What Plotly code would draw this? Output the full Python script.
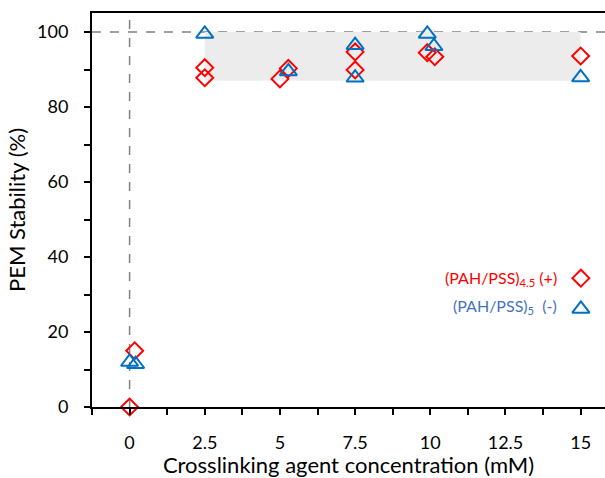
import plotly.graph_objects as go

# Stability of PEM films versus crosslinking agent concentration
pos_x = [0, 0.17, 2.5, 2.5, 5.0, 5.28, 7.5, 7.5, 9.9, 10.15, 15.0]
pos_y = [0, 15.0, 90.5, 87.8, 87.5, 90.3, 94.7, 89.9, 94.5, 93.4, 93.6]

neg_x = [0, 0.2, 2.5, 5.28, 7.5, 7.5, 9.9, 10.12, 15.0]
neg_y = [12.0, 11.4, 99.5, 89.5, 96.5, 87.8, 99.5, 96.2, 87.9]

band_x = [2.5, 15.0]
band_y = [87.0, 100.0]

x_ticks = [0, 2.5, 5, 7.5, 10, 12.5, 15]
x_labels = ["0", "2.5", "5", "7.5", "10", "12.5", "15"]
y_ticks = [0, 20, 40, 60, 80, 100]

RED = "#FF0000"
BLUE = "#0070C0"
BLUE_TXT = "#4472C4"
FONT = "Lato"

fig = go.Figure()

fig.add_trace(go.Scatter(
    x=pos_x, y=pos_y, mode="markers", name="(+)",
    marker=dict(symbol="diamond-open", size=13, color=RED, line=dict(width=2, color=RED)),
    cliponaxis=False, showlegend=False,
))
fig.add_trace(go.Scatter(
    x=neg_x, y=neg_y, mode="markers", name="(-)",
    marker=dict(symbol="triangle-up-open", size=15, color=BLUE, line=dict(width=2, color=BLUE)),
    cliponaxis=False, showlegend=False,
))

# key symbols on a helper overlay axis (unit square)
fig.add_trace(go.Scatter(
    x=[0.953], y=[0.327], mode="markers", xaxis="x2", yaxis="y2",
    marker=dict(symbol="diamond-open", size=13, color=RED, line=dict(width=2, color=RED)),
    showlegend=False, hoverinfo="skip", cliponaxis=False,
))
fig.add_trace(go.Scatter(
    x=[0.953], y=[0.249], mode="markers", xaxis="x2", yaxis="y2",
    marker=dict(symbol="triangle-up-open", size=15, color=BLUE, line=dict(width=2, color=BLUE)),
    showlegend=False, hoverinfo="skip", cliponaxis=False,
))

fig.add_shape(type="rect", xref="x", yref="y",
              x0=band_x[0], x1=band_x[1], y0=band_y[0], y1=band_y[1],
              fillcolor="#ECECEC", line=dict(width=0), layer="below")
fig.add_shape(type="line", xref="paper", yref="y", x0=0, x1=1, y0=100, y1=100,
              line=dict(color="#808080", width=1.5, dash="dash"), layer="below")
fig.add_shape(type="line", xref="x", yref="paper", x0=0, x1=0, y0=0, y1=1,
              line=dict(color="#808080", width=1.5, dash="dash"), layer="below")

fig.add_annotation(xref="paper", yref="paper", x=0.910, y=0.327, xanchor="right", yanchor="middle",
                   text="(PAH/PSS)<sub>4.5</sub> (+)", showarrow=False,
                   font=dict(family=FONT, size=16, color=RED))
fig.add_annotation(xref="paper", yref="paper", x=0.910, y=0.256, xanchor="right", yanchor="middle",
                   text="(PAH/PSS)<sub>5</sub>  (-)", showarrow=False,
                   font=dict(family=FONT, size=16, color=BLUE_TXT))

fig.update_layout(
    width=605, height=478,
    margin=dict(l=92, r=0, t=13, b=71),
    paper_bgcolor="white", plot_bgcolor="white",
    font=dict(family=FONT, size=18, color="black"),
    xaxis=dict(
        range=[-1.25, 15.81], tickvals=x_ticks, ticktext=x_labels,
        ticks="outside", ticklen=6, tickwidth=1.5, tickcolor="black",
        ticklabelstandoff=12,
        minor=dict(dtick=1.25, tick0=0, ticks="outside", ticklen=6, tickwidth=1.5, tickcolor="black"),
        showline=True, linecolor="black", linewidth=2, mirror=True,
        showgrid=False, zeroline=False,
        title=dict(text="Crosslinking agent concentration (mM)", font=dict(size=22), standoff=10),
    ),
    yaxis=dict(
        range=[0, 105.07], tickvals=y_ticks,
        ticks="outside", ticklen=6, tickwidth=1.5, tickcolor="black",
        ticklabelstandoff=12,
        minor=dict(dtick=10, tick0=0, ticks="outside", ticklen=6, tickwidth=1.5, tickcolor="black"),
        showline=True, linecolor="black", linewidth=2,
        showgrid=False, zeroline=False,
        title=dict(text="PEM Stability (%)", font=dict(size=22), standoff=5),
    ),
    xaxis2=dict(overlaying="x", range=[0, 1], visible=False),
    yaxis2=dict(overlaying="y", range=[0, 1], visible=False),
)

fig.write_html("out.html")
